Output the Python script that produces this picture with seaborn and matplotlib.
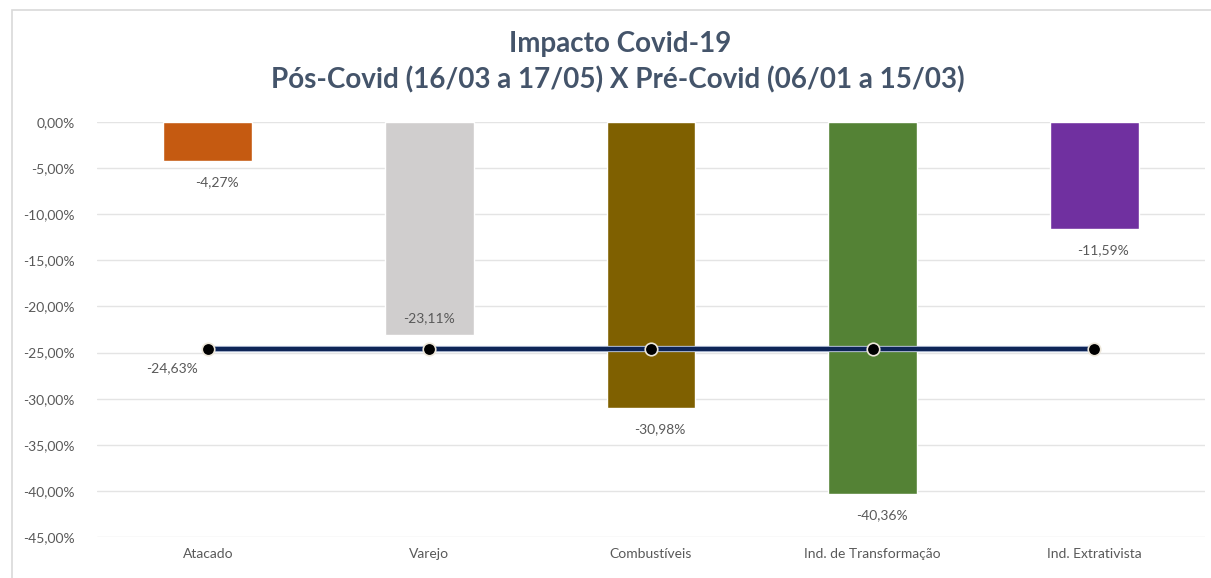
import numpy as np
import pandas as pd
import matplotlib
matplotlib.use("Agg")
import matplotlib.pyplot as plt
import matplotlib.patheffects as pe
from matplotlib.patches import Rectangle
import seaborn as sns

categories = ["Atacado", "Varejo", "Combustíveis", "Ind. de Transformação", "Ind. Extrativista"]
impacto = [-4.27, -23.11, -30.98, -40.36, -11.59]
media = [-24.63, -24.63, -24.63, -24.63, -24.63]
bar_colors = ["#C55A11", "#D0CECE", "#7F6000", "#548235", "#7030A0"]
yticks = [0, -5, -10, -15, -20, -25, -30, -35, -40, -45]
title1 = "Impacto Covid-19"
title2 = "Pós-Covid (16/03 a 17/05) X Pré-Covid (06/01 a 15/03)"

sns.set_theme(style="white")
plt.rcParams["font.family"] = ["Lato", "DejaVu Sans"]

fig = plt.figure(figsize=(12.11, 5.78), dpi=100)
fig.patches.append(Rectangle((12/1211, -0.01), 1.02, (578-10)/578 + 0.01, transform=fig.transFigure,
                             fill=False, edgecolor="#D9D9D9", linewidth=1.2))
ax = fig.add_axes([97/1211, 41/578, 1108/1211, 415/578])

df = pd.DataFrame({"cat": categories, "val": impacto})
sns.barplot(data=df, x="cat", y="val", hue="cat", palette=bar_colors, width=0.4,
            saturation=1, legend=False, ax=ax, zorder=2)

xpos = np.arange(len(categories))
ax.plot(xpos, media, color="#0E2557", linewidth=3.2, zorder=3,
        path_effects=[pe.Stroke(linewidth=4.5, foreground="#C9D3E6"), pe.Normal()])
ax.plot(xpos, media, linestyle="none", marker="o", markersize=9, markerfacecolor="black",
        markeredgecolor="#EDE7DA", markeredgewidth=1.2, zorder=4)

ax.set_xlim(-0.5, len(categories) - 0.5)
ax.set_ylim(-45, 0)
ax.set_yticks(yticks)
ax.set_yticklabels([f"{v:.2f}".replace(".", ",") + "%" for v in yticks])
ax.yaxis.grid(True, color="#E4E4E4", linewidth=1)
ax.set_axisbelow(True)
for s in ax.spines.values():
    s.set_visible(False)
ax.set_xlabel("")
ax.set_ylabel("")
ax.tick_params(axis="y", colors="#595959", labelsize=10, length=0, pad=16)
ax.tick_params(axis="x", colors="#595959", labelsize=10, length=0, pad=8)

lab = lambda v: f"{v:.2f}".replace(".", ",") + "%"
for i, v in enumerate(impacto):
    if i == 1:
        ax.text(i + 0.0, v + 1.8, lab(v), ha="center", va="center", fontsize=10, color="#595959", zorder=5)
    else:
        ax.text(i + 0.04, v - 2.3, lab(v), ha="center", va="center", fontsize=10, color="#595959", zorder=5)
ax.text(-0.16, media[0] - 2.1, lab(media[0]), ha="center", va="center", fontsize=10, color="#595959")

fig.text(620/1211, 1 - 44/578, title1, ha="center", va="center", fontsize=20, fontweight="bold", color="#44546A")
fig.text(618/1211, 1 - 80/578, title2, ha="center", va="center", fontsize=20, fontweight="bold", color="#44546A")

fig.savefig("out.png", dpi=100)
